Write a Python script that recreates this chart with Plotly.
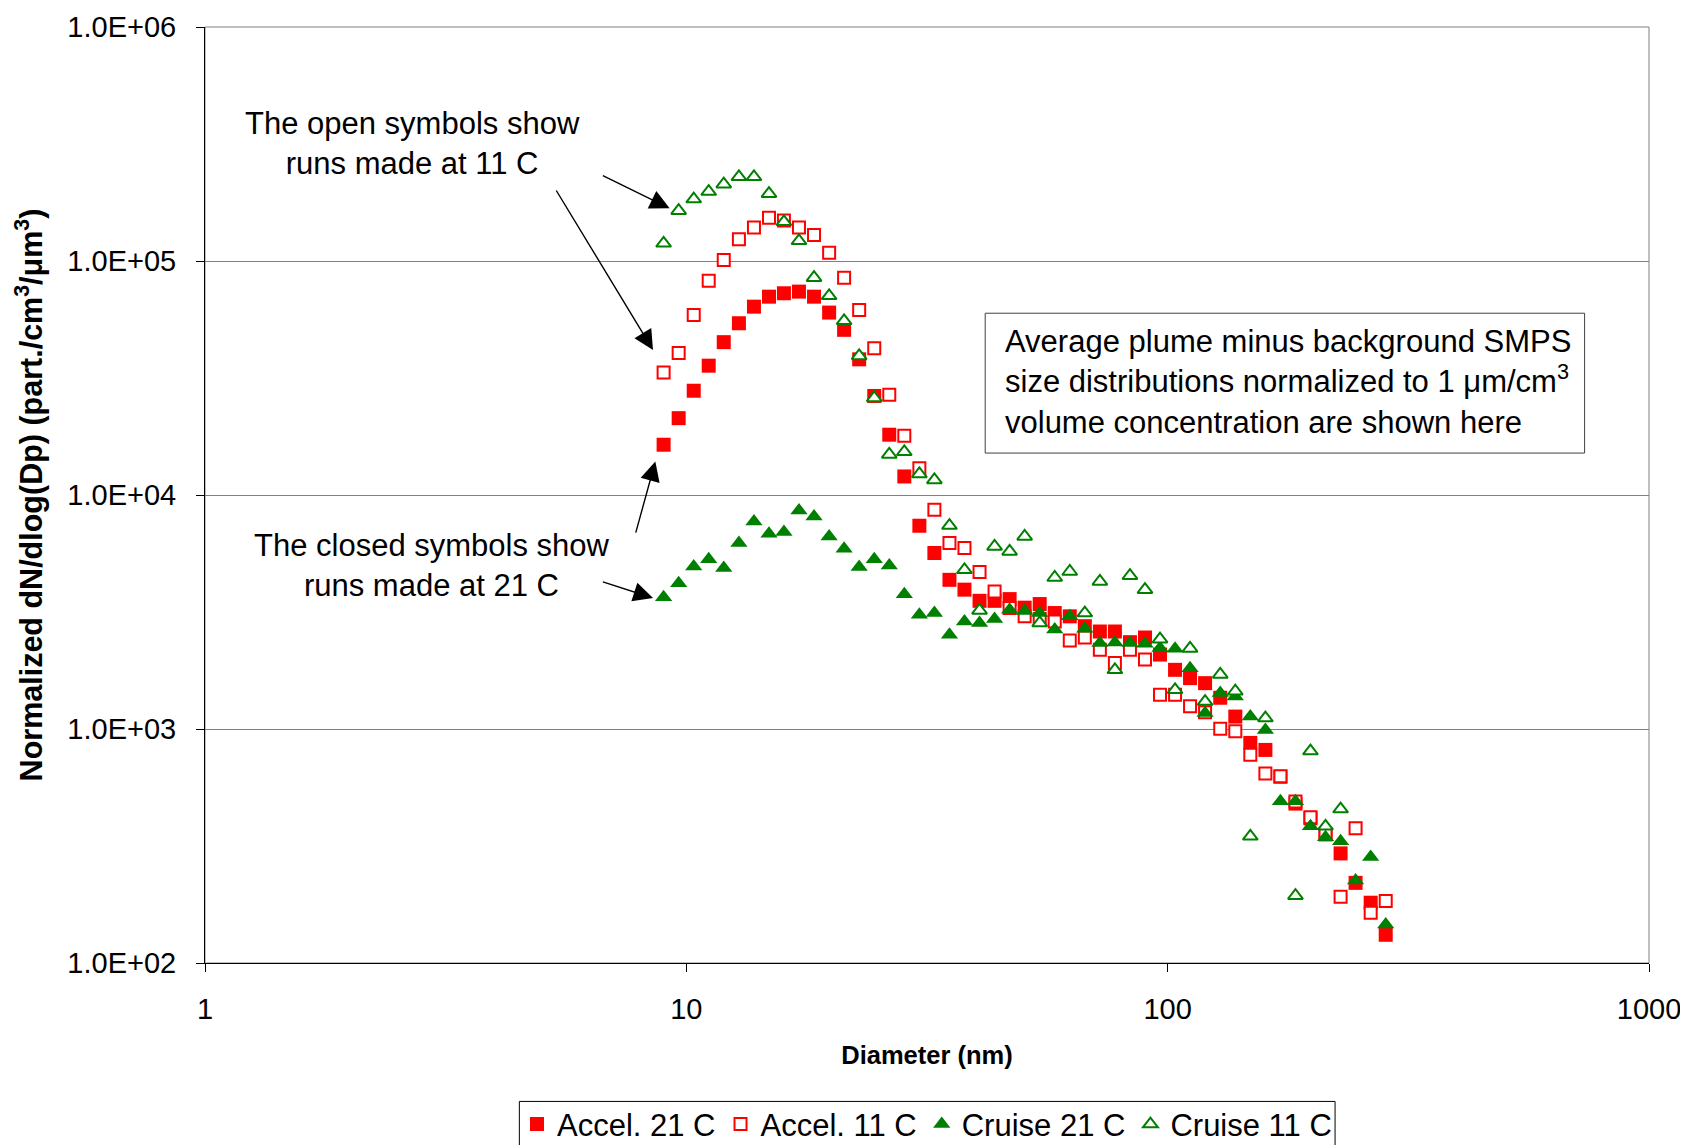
import plotly.graph_objects as go

# ---------------- data ----------------
diameter_nm = [8.97, 9.64, 10.36, 11.13, 11.96, 12.86, 13.82, 14.85, 15.95, 17.14,
               18.42, 19.80, 21.27, 22.86, 24.57, 26.40, 28.37, 30.49, 32.76, 35.21,
               37.83, 40.66, 43.69, 46.95, 50.45, 54.22, 58.26, 62.61, 67.28, 72.30,
               77.69, 83.49, 89.72, 96.41, 103.6, 111.3, 119.6, 128.6, 138.2, 148.5,
               159.6, 171.5, 184.3, 198.0, 212.8, 228.7, 245.7, 264.1, 283.8]

accel_21C = [16400, 21300, 27900, 35700, 45000, 54200, 63800, 70400, 72800, 74000,
             70400, 60200, 50800, 38000, 26500, 18100, 12000, 7390, 5650, 4340,
             3940, 3530, 3530, 3590, 3300, 3420, 3130, 3030, 2750, 2610,
             2610, 2350, 2460, 2080, 1790, 1650, 1570, 1360, 1130, 872,
             814, 625, 480, 415, 355, 294, 220, 181, 132]

accel_11C = [33400, 40400, 58800, 82400, 101000, 124000, 139000, 153000, 149000, 139000,
             129000, 108500, 84900, 61800, 42400, 26800, 17900, 13000, 8650, 6230,
             5930, 4690, 3870, 3290, 3030, 2950, 2880, 2390, 2460, 2180,
             1915, 2180, 1980, 1400, 1400, 1250, 1180, 1003, 977, 777,
             645, 628, 490, 420, 355, 192, 377, 164, 184]

cruise_21C = [3660, 4200, 4950, 5320, 4870, 6230, 7710, 6830, 6940, 8590,
              8090, 6650, 5890, 4920, 5320, 5000, 3770, 3080, 3130, 2530,
              2880, 2840, 2950, 3235, 3190, 3130, 2660, 3030, 2680, 2330,
              2340, 2330, 2315, 2220, 2200, 1820, 1170, 1425, 1377, 1130,
              990, 491, 491, 384, 345, 331, 225, 284, 146]

cruise_11C = [119000, 164000, 184000, 198000, 213000, 229000, 229000, 194000, 147000, 122000,
              84900, 71000, 55500, 39300, 26000, 14900, 15300, 12300, 11600, 7400,
              4790, 3210, 6030, 5740, 6650, 2840, 4440, 4710, 3130, 4270,
              1790, 4520, 3940, 2420, 1470, 2210, 1310, 1710, 1450, 348,
              1114, None, 194, 805, 384, 455, None, None, None]

series_names = ["Accel. 21 C", "Accel. 11 C", "Cruise 21 C", "Cruise 11 C"]
x_tick_values = [1, 10, 100, 1000]
x_tick_labels = ["1", "10", "100", "1000"]
y_tick_values = [1e2, 1e3, 1e4, 1e5, 1e6]
y_tick_labels = ["1.0E+02", "1.0E+03", "1.0E+04", "1.0E+05", "1.0E+06"]

# ---------------- styling ----------------
FONT = "Liberation Sans, Arial, Helvetica, sans-serif"
RED = "#FF0000"
GREEN = "#008000"

styles = [
    dict(symbol="square", size=14, color=RED, line=dict(width=0, color=RED)),
    dict(symbol="square", size=12, color="white", line=dict(width=2, color=RED)),
    dict(symbol="triangle-up", size=15, color=GREEN, line=dict(width=0, color=GREEN)),
    dict(symbol="triangle-up", size=13, color="white", line=dict(width=2, color=GREEN)),
]
values = [accel_21C, accel_11C, cruise_21C, cruise_11C]

fig = go.Figure()
for name, vals, st in zip(series_names, values, styles):
    fig.add_trace(go.Scatter(x=diameter_nm, y=vals, mode="markers", name=name,
                             marker=st, cliponaxis=False))

# the page body adds an 8px offset, so the figure is 8px smaller and shifted margins are used
fig.update_layout(
    width=1680, height=1137,
    margin=dict(l=196.5, r=39, t=19, b=181.5, pad=0, autoexpand=False),
    paper_bgcolor="white", plot_bgcolor="white",
    font=dict(family=FONT, size=29, color="black"),
    showlegend=True,
    legend=dict(orientation="h", x=0.5, xanchor="center", y=-0.1436, yanchor="top",
                borderwidth=0, font=dict(size=31),
                itemsizing="trace", tracegroupgap=0, bgcolor="rgba(0,0,0,0)"),
)

fig.update_xaxes(type="log", range=[0, 3], tickvals=x_tick_values, ticktext=x_tick_labels,
                 ticks="outside", ticklen=8, tickcolor="black", tickwidth=1,
                 showline=True, linecolor="black", linewidth=1, showgrid=False,
                 zeroline=False, tickfont=dict(size=29), ticklabelstandoff=12,
                 automargin=False,
                 title=dict(text="<b>Diameter (nm)</b>", font=dict(size=25.5), standoff=22))

fig.update_yaxes(type="log", range=[2, 6], tickvals=y_tick_values, ticktext=y_tick_labels,
                 ticks="outside", ticklen=8, tickcolor="black", tickwidth=1,
                 showline=True, linecolor="black", linewidth=1,
                 showgrid=True, gridcolor="#808080", gridwidth=1,
                 zeroline=False, tickfont=dict(size=29), ticklabelstandoff=14,
                 automargin=False,
                 title=dict(text="<b>Normalized dN/dlog(Dp) (part./cm<sup>3</sup>/μm<sup>3</sup>)</b>",
                            font=dict(size=30.5), standoff=15))

# plot-area border (gray top/right)
fig.add_shape(type="rect", xref="paper", yref="paper", x0=0, x1=1, y0=0, y1=1,
              line=dict(color="#808080", width=1), layer="below")

# legend frame (runs off the bottom edge, as in the reference)
fig.add_shape(type="rect", xref="paper", yref="paper", x0=0.2177, x1=0.7826, y0=-0.30, y1=-0.1479,
              line=dict(color="#000000", width=1), fillcolor="rgba(0,0,0,0)", layer="below")

# text box
fig.add_shape(type="rect", xref="paper", yref="paper", x0=0.5403, x1=0.9554, y0=0.5448, y1=0.6942,
              line=dict(color="#404040", width=1), fillcolor="white", layer="below")
fig.add_annotation(xref="paper", yref="paper", x=0.5528, y=0.6208, xanchor="left", yanchor="middle",
                   align="left", showarrow=False, font=dict(size=31),
                   text="Average plume minus background SMPS<br>"
                        "size distributions normalized to 1 μm/cm<sup>3</sup><br>"
                        "volume concentration are shown here")

# callout texts (positions in log10 data units)
fig.add_annotation(xref="x", yref="y", x=0.4309, y=5.501, showarrow=False, font=dict(size=31),
                   text="The open symbols show<br>runs made at 11 C", align="center")
fig.add_annotation(xref="x", yref="y", x=0.4725, y=3.699, showarrow=False, font=dict(size=31),
                   text="The closed symbols show<br>runs made at 21 C", align="center")

# arrows: (tail_x, tail_y, head_x, head_y) in log10 data units
arrows = [
    (0.8235, 5.3675, 0.9653, 5.2253),
    (0.7279, 5.3077, 0.9308, 4.6201),
    (0.8941, 3.8330, 0.9356, 4.1430),
    (0.8235, 3.6306, 0.9308, 3.5597),
]
for tx, ty, hx, hy in arrows:
    fig.add_annotation(xref="x", yref="y", axref="x", ayref="y",
                       x=hx, y=hy, ax=tx, ay=ty, text="", showarrow=True,
                       arrowhead=2, arrowsize=2.8, arrowwidth=1.4, arrowcolor="black",
                       standoff=0, startstandoff=0)

fig.write_html("out.html")
